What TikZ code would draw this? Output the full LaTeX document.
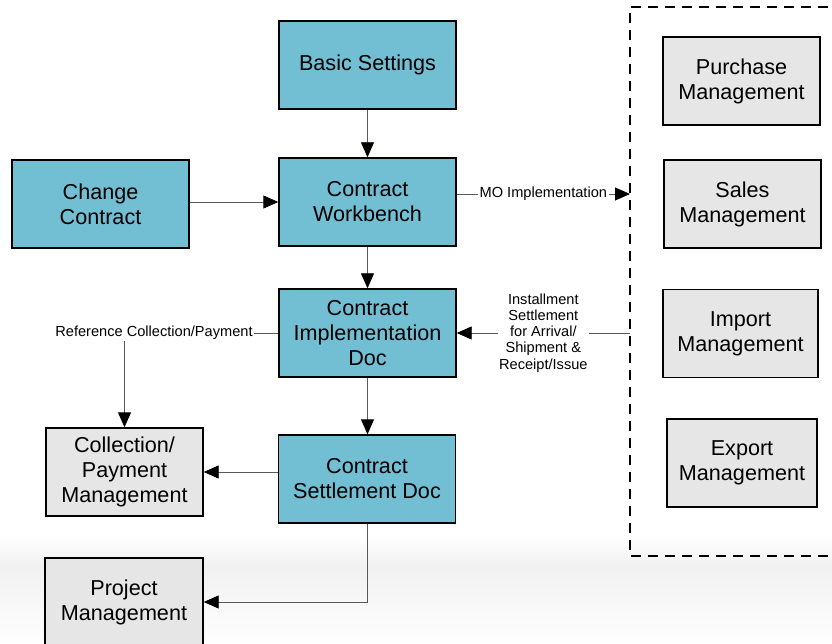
\documentclass[tikz,border=0pt]{standalone}
\usepackage{fontspec}
\setmainfont{Liberation Sans}
\usetikzlibrary{arrows.meta}
\definecolor{tealfill}{HTML}{72BFD3}
\definecolor{greyfill}{HTML}{E6E6E6}
\tikzset{
  box/.style={draw=black, line width=1.4bp, minimum width=177bp, minimum height=88bp, inner sep=0pt, align=center, font=\fontsize{21.6bp}{25bp}\selectfont},
  mainbox/.style={box, fill=tealfill},
  sidebox/.style={box, fill=greyfill, minimum width=157bp},
  conn/.style={draw=black!65, line width=0.9bp},
  arr/.style={conn, -{Triangle[length=15bp,width=13bp,fill=black,color=black]}},
  lbl/.style={fill=white, inner sep=1.5bp, align=center, font=\fontsize{14.6bp}{16.2bp}\selectfont},
}
\begin{document}
\begin{tikzpicture}[x=1bp,y=-1bp]
\useasboundingbox (0,0) rectangle (832,644);
% background band
\fill[top color=white, bottom color=gray!11] (0,536) rectangle (832,566);
\fill[top color=gray!11, bottom color=white] (0,566) rectangle (832,644);
% dashed group
\draw[line width=1.5bp, dash pattern=on 10bp off 7bp] (845,7) -- (630,7) -- (630,556) -- (845,556);
% main nodes
\node[mainbox] (basic) at (367.5,65) {Basic Settings};
\node[mainbox] (change) at (100.5,204) {Change\\Contract};
\node[mainbox] (bench) at (367.5,202) {Contract\\Workbench};
\node[mainbox] (impl) at (367.5,333) {Contract\\Implementation\\Doc};
\node[mainbox] (settle) at (367,479) {Contract\\Settlement Doc};
\node[sidebox] (coll) at (124.5,472) {Collection/\\Payment\\Management};
\node[sidebox, minimum width=158bp] (proj) at (124,602) {Project\\Management};
% right group
\node[sidebox] (purch) at (741.5,81) {Purchase\\Management};
\node[sidebox] (sales) at (742.5,204) {Sales\\Management};
\node[sidebox, minimum width=155bp] (import) at (740.5,333.5) {Import\\Management};
\node[sidebox, minimum width=150bp] (export) at (742,463) {Export\\Management};
\coordinate (grpMO) at (630,194);
\coordinate (grpInst) at (630,333);
% connectors
\draw[arr] (basic) -- (bench);
\draw[arr] (change.east |- 0,202) -- (bench.west |- 0,202);
\draw[arr] (bench.east |- grpMO) -- node[lbl] {MO Implementation} (grpMO);
\draw[arr] (bench) -- (impl);
\draw[arr] (impl) -- (settle.north -| impl.south);
\draw[arr] (grpInst) -- node[lbl] {Installment\\Settlement\\for Arrival/\\Shipment \&\\Receipt/Issue} (impl.east |- grpInst);
\draw[arr] (impl.west) -| (coll.north);
\node[lbl] (reflbl) at (154,333) {Reference Collection/Payment};
\draw[arr] (coll.east -| settle.west) -- (coll.east);
\draw[arr] (settle.south) |- (proj.east);
\end{tikzpicture}
\end{document}
